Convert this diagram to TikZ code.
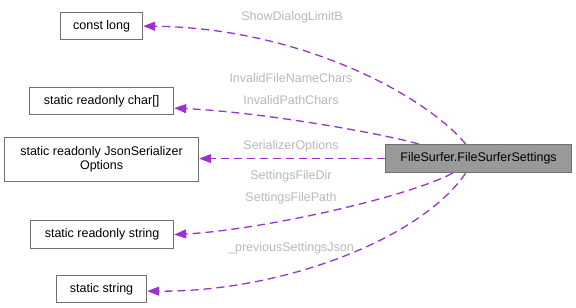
\documentclass[tikz,border=0pt]{standalone}
\usepackage{fontspec}
\setmainfont{Liberation Sans}
\usetikzlibrary{arrows.meta}
\definecolor{edgecol}{HTML}{9A32CD}
\definecolor{labelcol}{HTML}{B8B8B8}
\definecolor{boxborder}{HTML}{707070}
\definecolor{mainfill}{HTML}{999999}
\begin{document}
\begin{tikzpicture}[x=1pt,y=-1pt,
  every node/.style={font=\fontsize{12.5}{14}\selectfont},
  typebox/.style={draw=boxborder,line width=1.2pt,fill=white,inner sep=0pt,anchor=north west},
  mainbox/.style={draw=boxborder,line width=1.2pt,fill=mainfill,inner sep=0pt,anchor=north west},
  rel/.style={draw=edgecol,line width=1.3pt,dash pattern=on 8pt off 5pt,
    -{Triangle[length=12pt,width=9pt,fill=edgecol]}},
  lbl/.style={text=labelcol,inner sep=0pt}]
\useasboundingbox (0,0) rectangle (576,308);

% member type boxes
\node[typebox,minimum width=82pt,minimum height=27pt] (clong) at (60,12) {const long};
\node[typebox,minimum width=144pt,minimum height=27pt] (charr) at (29,87) {static readonly char[]};
\node[typebox,minimum width=194pt,minimum height=44pt,align=center] (json) at (4,137)
  {static readonly JsonSerializer\\[0pt]Options};
\node[typebox,minimum width=143pt,minimum height=28pt] (rostr) at (30,220) {static readonly string};
\node[typebox,minimum width=90pt,minimum height=27pt] (sstr) at (56,275) {static string};

% the settings class
\node[mainbox,minimum width=186pt,minimum height=28pt] (main) at (385,144) {FileSurfer.FileSurferSettings};

% usage relations
\draw[rel] ([xshift=-13pt]main.north) .. controls (425,95) and (300,28) .. (clong.east);
\draw[rel] ([xshift=-60pt]main.north) .. controls (380,133) and (260,112) .. ([yshift=-7pt]charr.east);
\draw[rel] (main.west) -- (main.west -| json.east);
\draw[rel] ([xshift=-26pt]main.south) .. controls (405,198) and (260,230) .. (rostr.east);
\draw[rel] ([xshift=-13pt]main.south) .. controls (420,240) and (280,292) .. ([yshift=-2pt]sstr.east);

% relation labels
\node[lbl] (l1) at (292,17) {ShowDialogLimitB};
\node[lbl] (l2) at (291,78) {InvalidFileNameChars};
\node[lbl] (l3) at (291,100) {InvalidPathChars};
\node[lbl] (l4) at (291,146) {SerializerOptions};
\node[lbl] (l5) at (291,176) {SettingsFileDir};
\node[lbl] (l6) at (291,198) {SettingsFilePath};
\node[lbl] (l7) at (291,248) {\_previousSettingsJson};
\end{tikzpicture}
\end{document}
